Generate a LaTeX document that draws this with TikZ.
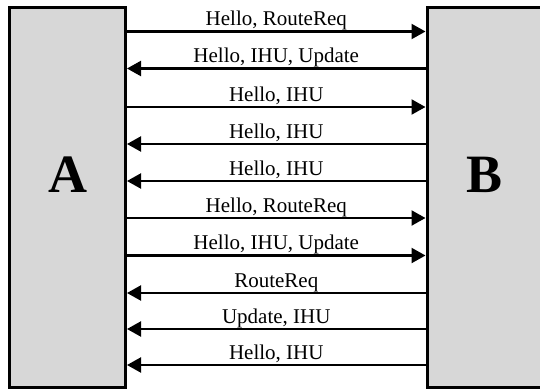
\documentclass[tikz,border=0pt]{standalone}
\usepackage{fontspec}
\setmainfont{Liberation Serif}
\usetikzlibrary{arrows.meta}
\definecolor{boxgray}{RGB}{215,215,215}
\tikzset{
  party/.style={draw=black, line width=3pt, fill=boxgray, rectangle,
    inner sep=0pt, minimum height=380.5pt},
  partyname/.style={anchor=base, inner sep=0pt,
    font=\fontsize{54pt}{54pt}\selectfont\bfseries},
  msg/.style={line width=2.2pt, -{Triangle[length=14pt,width=15pt]}},
  msglabel/.style={anchor=base, inner sep=0pt, yshift=6pt,
    font=\fontsize{21pt}{23pt}\selectfont}
}
\begin{document}
\begin{tikzpicture}[x=1pt, y=1pt]
  \useasboundingbox (0,0) rectangle (540,-389);
  % the two communicating peers
  \node[party, minimum width=116pt] (A) at (67.5,-197.25) {};
  \node[party, minimum width=115pt] (B) at (484.5,-197.25) {};
  \node[partyname] (nameA) at (67.5,-192) {A};
  \node[partyname] (nameB) at (484.5,-192) {B};
  % messages exchanged between A and B (y, direction, text)
  \foreach \y/\dir/\txt in {
      31.5/1/{Hello, RouteReq},
      68.5/0/{Hello, IHU, Update},
      107/1/{Hello, IHU},
      144/0/{Hello, IHU},
      181/0/{Hello, IHU},
      218/1/{Hello, RouteReq},
      255.5/1/{Hello, IHU, Update},
      293/0/{RouteReq},
      329/0/{Update, IHU},
      365/0/{Hello, IHU}} {
    \ifnum\dir=1
      \draw[msg] (A.east |- 0,-\y) -- node[msglabel] {\txt} (B.west |- 0,-\y);
    \else
      \draw[msg] (B.west |- 0,-\y) -- node[msglabel] {\txt} (A.east |- 0,-\y);
    \fi
  }
\end{tikzpicture}
\end{document}
